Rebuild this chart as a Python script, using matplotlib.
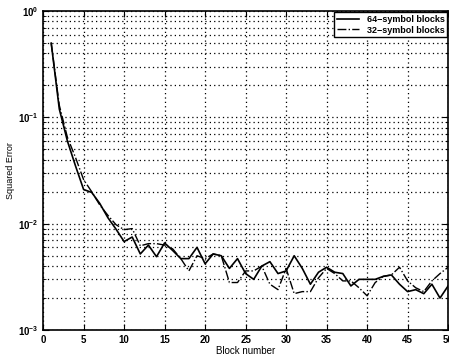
import numpy as np
import matplotlib
matplotlib.use('Agg')
import matplotlib.pyplot as plt

# Squared error per block
blocks = np.arange(1, 51)
err_64 = [0.50, 0.12, 0.060, 0.035, 0.021, 0.0197, 0.0155, 0.0114, 0.0089, 0.0068,
          0.0075, 0.0052, 0.0063, 0.0049, 0.0066, 0.0056, 0.0047, 0.0047, 0.0060, 0.0042,
          0.0052, 0.0050, 0.0038, 0.0047, 0.0034, 0.0030, 0.0040, 0.0044, 0.0034, 0.0036,
          0.0050, 0.0038, 0.0027, 0.0035, 0.0039, 0.0035, 0.0034, 0.0026, 0.0030, 0.0030,
          0.0030, 0.0032, 0.0033, 0.0027, 0.0023, 0.0024, 0.0022, 0.0027, 0.0020, 0.0026]
err_32 = [0.50, 0.13, 0.065, 0.042, 0.026, 0.020, 0.015, 0.012, 0.0098, 0.0088,
          0.0090, 0.0062, 0.0065, 0.0065, 0.0063, 0.0058, 0.0047, 0.0036, 0.0050, 0.0047,
          0.0052, 0.0050, 0.0028, 0.0028, 0.0036, 0.0036, 0.0040, 0.0027, 0.0024, 0.0038,
          0.0022, 0.0023, 0.0023, 0.0031, 0.0038, 0.0034, 0.0029, 0.0029, 0.0025, 0.0021,
          0.0028, 0.0032, 0.0033, 0.0039, 0.0029, 0.0025, 0.0023, 0.0029, 0.0034, 0.0039]
labels = ['64\u2212symbol blocks', '32\u2212symbol blocks']

plt.rcParams['font.family'] = ['Liberation Sans', 'DejaVu Sans']
plt.rcParams['font.weight'] = 'bold'
plt.rcParams['mathtext.fontset'] = 'custom'
plt.rcParams['mathtext.rm'] = 'Liberation Sans:bold'
plt.rcParams['mathtext.default'] = 'rm'

fig = plt.figure(figsize=(4.49, 3.58), dpi=100)
ax = fig.add_axes([0.096, 0.078, 0.902, 0.891])

ax.semilogy(blocks, err_64, 'k-', lw=1.2, label=labels[0])
ax.semilogy(blocks, err_32, 'k-.', lw=1.0, label=labels[1])

ax.set_xlim(0, 50)
ax.set_ylim(1e-3, 1)
ax.set_xticks(np.arange(0, 51, 5))
dots = (0, (1, 2.5))
ax.grid(True, which='major', linestyle=dots, color='k', lw=0.9)
ax.grid(True, which='minor', axis='y', linestyle=dots, color='k', lw=0.9)
ax.tick_params(which='both', direction='in', labelsize=7, top=True, right=True)
ax.tick_params(which='major', length=4)
ax.tick_params(which='minor', length=2)
for s in ax.spines.values():
    s.set_linewidth(1.2)

ax.set_xlabel('Block number', fontsize=7, labelpad=1)
ax.set_ylabel('Squared Error', fontsize=6.5, labelpad=2)

leg = ax.legend(loc='upper right', fontsize=6.5, fancybox=False, framealpha=1,
                edgecolor='k', handlelength=2.5, borderaxespad=0.1, borderpad=0.3,
                labelspacing=0.2)
leg.get_frame().set_linewidth(1.0)

fig.savefig('out.png', dpi=100)
